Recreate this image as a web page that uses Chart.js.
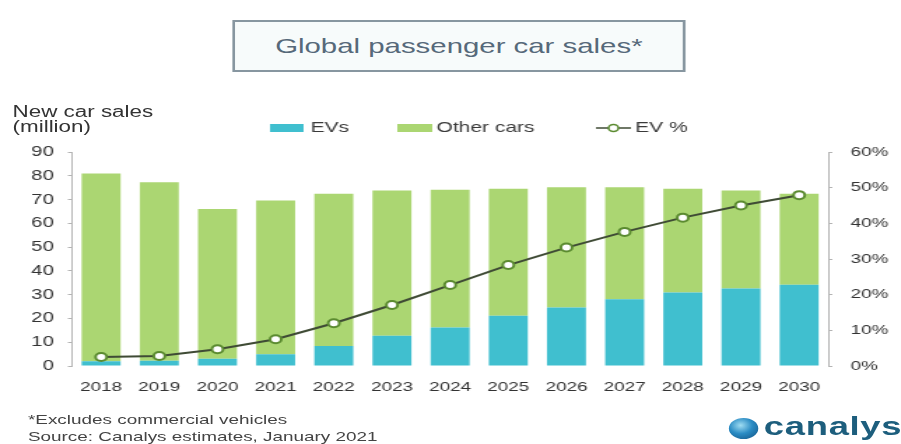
<!DOCTYPE html>
<html>
<head>
<meta charset="utf-8">
<script src="https://cdn.jsdelivr.net/npm/chart.js@4"></script>
<style>
  html, body { margin: 0; padding: 0; background: #fff; }
  body { width: 901px; height: 444px; overflow: hidden; position: relative; }
  /* whole sheet is laid out narrow then widened */
  #sheet {
    position: absolute; left: 0; top: 0;
    width: 644px; height: 444px;
    transform: scaleX(1.399); transform-origin: 0 0;
    font-family: "Liberation Sans", Arial, sans-serif;
    color: #3a3a3a;
  }
  #chart { position: absolute; left: 0; top: 0; }
  .title-box {
    position: absolute; left: 166px; top: 20px; width: 320px; height: 48px;
    border: 2px solid #8796a0; background: #f7fbfb;
    display: flex; align-items: center; justify-content: center;
    font-size: 21px; color: #56697a;
  }
  .unit {
    position: absolute; left: 9px; top: 104px;
    font-size: 16px; line-height: 15px; color: #333;
  }
  .note {
    position: absolute; left: 20px; top: 411px;
    font-size: 13.5px; line-height: 17px; color: #444;
  }
  .logo { position: absolute; left: 521px; top: 415px; height: 26px; }
  .logo .globe {
    position: absolute; left: 0; top: 3px; width: 21px; height: 21px; border-radius: 50%;
    background: radial-gradient(circle at 40% 35%, #9fdcf2 0%, #2b8cc4 45%, #0f4f80 100%);
  }
  .logo .word {
    position: absolute; left: 25px; top: -4px;
    font-size: 26px; font-weight: bold; color: #1d5e7d; letter-spacing: 0.5px;
  }
</style>
</head>
<body>
<div id="sheet">
  <canvas id="chart" width="644" height="444"></canvas>
  <div class="title-box">Global passenger car sales*</div>
  <div class="unit">New car sales<br>(million)</div>
  <div class="note">*Excludes commercial vehicles<br>Source: Canalys estimates, January 2021</div>
  <div class="logo"><div class="globe"></div><div class="word">canalys</div></div>
</div>
<script>
// years on the x axis
var years = ['2018', '2019', '2020', '2021', '2022', '2023', '2024', '2025', '2026', '2027', '2028', '2029', '2030'];
// sales in millions
var evSales = [2.0, 2.2, 3.1, 4.9, 8.4, 12.7, 16.2, 21.1, 24.6, 28.1, 30.9, 32.6, 34.2];
var otherSales = [79.0, 75.1, 62.9, 64.7, 64.0, 61.1, 57.9, 53.4, 50.6, 47.1, 43.6, 41.2, 38.2];
// EV share of sales, percent
var evShare = [2.5, 2.8, 4.7, 7.5, 12.0, 17.1, 22.7, 28.3, 33.2, 37.6, 41.6, 45.0, 47.9];

var salesMax = 90, salesStep = 10;
var shareMax = 60, shareStep = 10;

var evColor = '#40bfcf';
var otherColor = '#abd672';
var lineColor = '#3f4b35';
var markerColor = '#5b8b30';
var tickColor = '#333333';
var axisColor = '#b4b4b4';

// legend row drawn by hand so it can sit where it does
var legendRow = {
  id: 'legendRow',
  afterDraw: function (chart) {
    var ctx = chart.ctx;
    var ds = chart.data.datasets;
    var y = 128;
    ctx.save();
    ctx.font = '15px "Liberation Sans"';
    ctx.textBaseline = 'middle';
    // bar swatches
    ctx.fillStyle = ds[0].backgroundColor;
    ctx.fillRect(193, y - 4, 24, 8);
    ctx.fillStyle = ds[1].backgroundColor;
    ctx.fillRect(284, y - 4, 25, 8);
    ctx.fillStyle = '#3a3a3a';
    ctx.fillText(ds[0].label, 222, y);
    ctx.fillText(ds[1].label, 312, y);
    // line swatch
    ctx.strokeStyle = ds[2].borderColor;
    ctx.lineWidth = 1.5;
    ctx.beginPath();
    ctx.moveTo(426, y);
    ctx.lineTo(451, y);
    ctx.stroke();
    ctx.beginPath();
    ctx.arc(438.5, y, 3.5, 0, Math.PI * 2);
    ctx.fillStyle = '#fff';
    ctx.fill();
    ctx.strokeStyle = ds[2].pointBorderColor;
    ctx.stroke();
    ctx.fillStyle = '#3a3a3a';
    ctx.fillText(ds[2].label, 454, y);
    ctx.restore();
  }
};

var ctx = document.getElementById('chart').getContext('2d');
var chart = new Chart(ctx, {
  type: 'bar',
  data: {
    labels: years,
    datasets: [
      {
        label: 'EVs',
        data: evSales,
        backgroundColor: evColor,
        yAxisID: 'sales',
        stack: 'cars',
        order: 2,
        barPercentage: 0.67,
        categoryPercentage: 1
      },
      {
        label: 'Other cars',
        data: otherSales,
        backgroundColor: otherColor,
        yAxisID: 'sales',
        stack: 'cars',
        order: 2,
        barPercentage: 0.67,
        categoryPercentage: 1
      },
      {
        type: 'line',
        label: 'EV %',
        data: evShare,
        yAxisID: 'share',
        borderColor: lineColor,
        borderWidth: 2,
        pointRadius: 4,
        pointBorderWidth: 2,
        pointBackgroundColor: '#ffffff',
        pointBorderColor: markerColor,
        tension: 0,
        order: 0
      }
    ]
  },
  options: {
    responsive: false,
    animation: false,
    layout: { padding: { top: 152, bottom: 48, left: 0, right: 0 } },
    plugins: {
      legend: { display: false },
      title: { display: false },
      tooltip: { enabled: false }
    },
    scales: {
      x: {
        stacked: true,
        grid: { display: false },
        border: { display: false },
        ticks: { color: tickColor, font: { family: 'Liberation Sans', size: 13.5 }, padding: 5, maxRotation: 0, autoSkip: false },
        afterFit: function (axis) { axis.height = 30; }
      },
      sales: {
        type: 'linear',
        position: 'left',
        stacked: true,
        min: 0,
        max: salesMax,
        grid: { drawOnChartArea: false, drawTicks: true, tickLength: 3, color: axisColor },
        border: { display: true, color: axisColor, width: 1 },
        ticks: { stepSize: salesStep, color: tickColor, font: { family: 'Liberation Sans', size: 14.5 }, padding: 10 },
        afterFit: function (axis) { axis.width = 51.5; }
      },
      share: {
        type: 'linear',
        position: 'right',
        min: 0,
        max: shareMax,
        grid: { drawOnChartArea: false, drawTicks: true, tickLength: 3, color: axisColor },
        border: { display: true, color: axisColor, width: 1 },
        ticks: {
          stepSize: shareStep,
          color: tickColor,
          font: { family: 'Liberation Sans', size: 13.5 },
          padding: 13,
          callback: function (v) { return v + '%'; }
        },
        afterFit: function (axis) { axis.width = 52; }
      }
    }
  },
  plugins: [legendRow]
});
</script>
</body>
</html>
